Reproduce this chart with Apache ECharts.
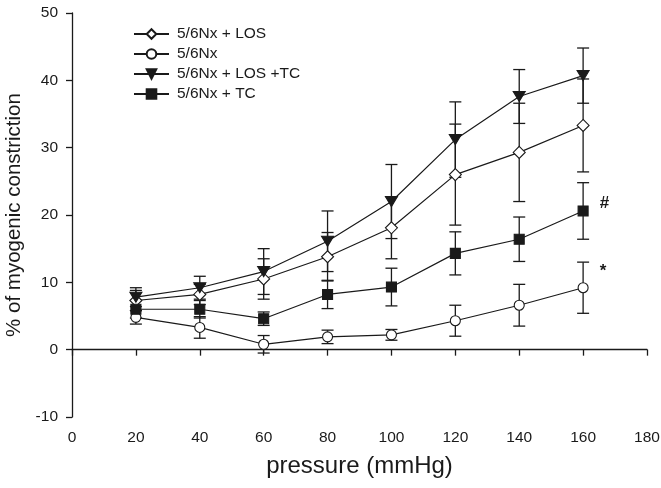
<!DOCTYPE html>
<html>
<head>
<meta charset="utf-8">
<script src="https://cdn.jsdelivr.net/npm/echarts@6/dist/echarts.min.js"></script>
<style>
html,body{margin:0;padding:0;background:#fff;}
#chart{width:661px;height:488px;}
</style>
</head>
<body>
<div id="chart"></div>
<script>
// ---- data ----
var pressure = [20, 40, 60, 80, 100, 120, 140, 160];
var losMean   = [7.3, 8.2, 10.5, 13.8, 18.1, 26.0, 29.3, 33.3];
var losSE     = [1.5, 1.5, 3.0, 3.6, 4.6, 7.5, 7.3, 6.9];
var nxMean    = [4.8, 3.3, 0.8, 1.9, 2.2, 4.3, 6.6, 9.2];
var nxSE      = [1.0, 1.6, 1.3, 1.0, 0.8, 2.3, 3.1, 3.8];
var lostcMean = [7.8, 9.2, 11.6, 16.1, 22.0, 31.2, 37.6, 40.7];
var lostcSE   = [1.4, 1.7, 3.4, 4.5, 5.5, 5.6, 4.0, 4.1];
var tcMean    = [6.0, 6.0, 4.6, 8.2, 9.3, 14.3, 16.4, 20.6];
var tcSE      = [1.3, 1.3, 1.0, 2.1, 2.8, 3.2, 3.3, 4.2];
var seriesNames = ['5/6Nx + LOS', '5/6Nx', '5/6Nx + LOS +TC', '5/6Nx + TC'];
var annotTC = '#';
var annotNx = '*';
var xTicks = [0, 20, 40, 60, 80, 100, 120, 140, 160, 180];
var yTicks = [-10, 0, 10, 20, 30, 40, 50];

var INK = '#1a1a1a';
var FONT = '"Liberation Sans", Arial, sans-serif';

function pts(means, annot) {
  return pressure.map(function (p, i) {
    var d = { value: [p, means[i]] };
    if (annot && i === pressure.length - 1) {
      d.label = {
        show: true, formatter: annot, position: 'right',
        distance: 11, offset: annot === '#' ? [0, -8] : [0, -16],
        fontSize: 17, fontWeight: 'bold', color: INK, fontFamily: FONT
      };
    }
    return d;
  });
}

function errSeries(means, se) {
  var data = pressure.map(function (p, i) { return [p, means[i] - se[i], means[i] + se[i]]; });
  return {
    type: 'custom', silent: true, z: 1,
    data: data,
    encode: { x: 0, y: [1, 2] },
    renderItem: function (params, api) {
      var lo = api.coord([api.value(0), api.value(1)]);
      var hi = api.coord([api.value(0), api.value(2)]);
      var hw = 6;
      var st = { stroke: INK, lineWidth: 1.3 };
      return {
        type: 'group',
        children: [
          { type: 'line', shape: { x1: lo[0], y1: lo[1], x2: hi[0], y2: hi[1] }, style: st },
          { type: 'line', shape: { x1: lo[0] - hw, y1: lo[1], x2: lo[0] + hw, y2: lo[1] }, style: st },
          { type: 'line', shape: { x1: hi[0] - hw, y1: hi[1], x2: hi[0] + hw, y2: hi[1] }, style: st }
        ]
      };
    }
  };
}

function lineSeries(name, means, symbol, size, fill, annot) {
  return {
    name: name, type: 'line', z: 3,
    data: pts(means, annot),
    symbol: symbol, symbolSize: size, showAllSymbol: true,
    lineStyle: { color: INK, width: 1.2 },
    itemStyle: { color: fill, borderColor: INK, borderWidth: 1.1 },
    emphasis: { disabled: true },
    animation: false
  };
}

var chart = echarts.init(document.getElementById('chart'));
chart.setOption({
  animation: false,
  backgroundColor: '#fff',
  grid: { left: 72, right: 14, top: 13, bottom: 71, containLabel: false, outerBoundsMode: 'none' },
  legend: {
    orient: 'vertical', left: 133, top: 25, padding: 0, itemWidth: 35, itemHeight: 12, itemGap: 2,
    data: seriesNames,
    textStyle: { fontFamily: FONT, fontSize: 15.5, color: INK, padding: [0, 0, 0, 3], lineHeight: 18 },
    inactiveColor: '#ccc'
  },
  xAxis: {
    type: 'value', min: 0, max: 180, interval: 20,
    name: 'pressure (mmHg)', nameLocation: 'middle', nameGap: 37,
    nameTextStyle: { fontFamily: FONT, fontSize: 24, color: INK },
    axisLine: { show: true, lineStyle: { color: INK, width: 1.3 } },
    axisTick: { show: true, length: 6, lineStyle: { color: INK, width: 1.3 } },
    axisLabel: { fontFamily: FONT, fontSize: 15.5, color: INK, margin: 13 },
    splitLine: { show: false }
  },
  yAxis: {
    type: 'value', min: -10, max: 50, interval: 10,
    name: '% of myogenic constriction', nameLocation: 'middle', nameGap: 44, nameRotate: 90,
    nameTextStyle: { fontFamily: FONT, fontSize: 20.5, color: INK },
    axisLine: { show: true, lineStyle: { color: INK, width: 1.3 } },
    axisTick: { show: true, length: 6, lineStyle: { color: INK, width: 1.3 } },
    axisLabel: { fontFamily: FONT, fontSize: 15.5, color: INK, margin: 14 },
    splitLine: { show: false }
  },
  series: [
    errSeries(losMean, losSE),
    errSeries(nxMean, nxSE),
    errSeries(lostcMean, lostcSE),
    errSeries(tcMean, tcSE),
    lineSeries(seriesNames[0], losMean, 'diamond', 12, '#fff'),
    lineSeries(seriesNames[1], nxMean, 'circle', 10, '#fff', annotNx),
    lineSeries(seriesNames[2], lostcMean, 'path://M0 0 L12 0 L6 10 Z', [12, 10], INK),
    lineSeries(seriesNames[3], tcMean, 'rect', 10, INK, annotTC)
  ]
});
</script>
</body>
</html>
